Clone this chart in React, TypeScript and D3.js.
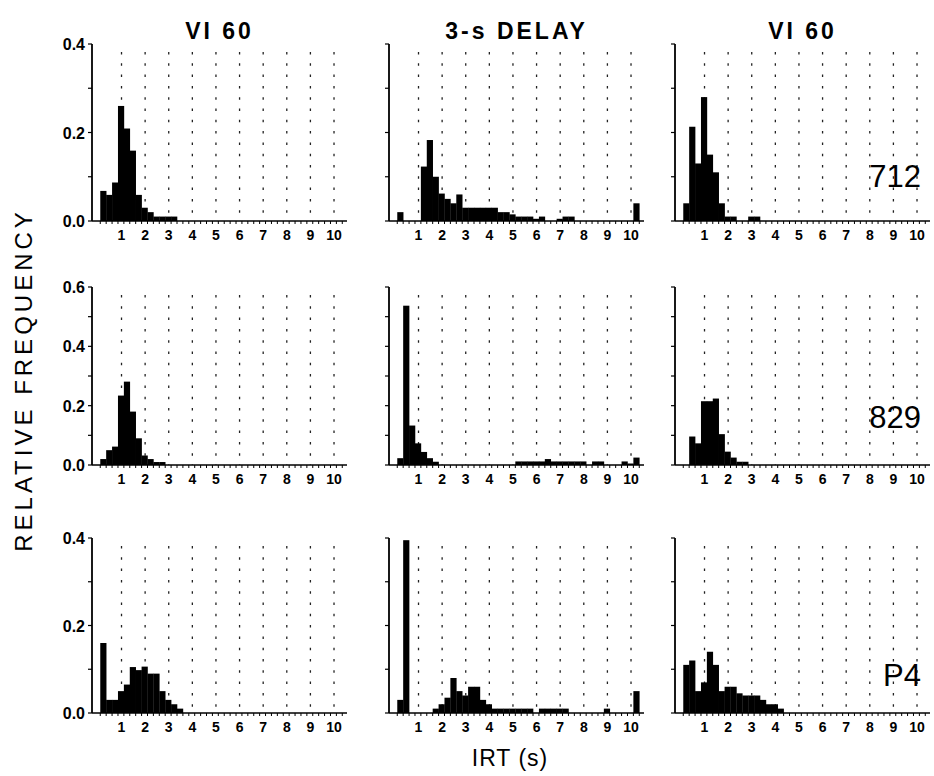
import React, { useRef, useEffect } from 'react';
import * as d3 from 'd3';

// IRT bins are 0.25 s wide, the first one starts at 0.1 s
const binStarts = d3.range(41).map(i => 0.1 + i * 0.25);
const binWidth = 0.25;

const columnTitles = ['VI 60', '3-s DELAY', 'VI 60'];
const subjects = ['712', '829', 'P4'];
const yMaxes = [0.4, 0.6, 0.4];
const xTickValues = [1, 2, 3, 4, 5, 6, 7, 8, 9, 10];

// subject 712
const vi712a = [0.068, 0.059, 0.087, 0.26, 0.209, 0.159, 0.059, 0.03, 0.02, 0.01, 0.01, 0.01, 0.01,
  0, 0, 0, 0, 0, 0, 0, 0, 0, 0, 0, 0, 0, 0, 0, 0, 0, 0, 0, 0, 0, 0, 0, 0, 0, 0, 0, 0];
const delay712 = [0.02, 0, 0, 0, 0.123, 0.183, 0.1, 0.062, 0.05, 0.04, 0.06, 0.03, 0.03, 0.03, 0.03,
  0.03, 0.03, 0.02, 0.02, 0.015, 0.01, 0.01, 0.01, 0.005, 0.01, 0, 0, 0.005, 0.01, 0.01,
  0, 0, 0, 0, 0, 0, 0, 0, 0, 0, 0.04];
const vi712b = [0.04, 0.213, 0.13, 0.28, 0.15, 0.11, 0.04, 0.01, 0.01, 0, 0, 0.01, 0.01,
  0, 0, 0, 0, 0, 0, 0, 0, 0, 0, 0, 0, 0, 0, 0, 0, 0, 0, 0, 0, 0, 0, 0, 0, 0, 0, 0, 0];

// subject 829
const vi829a = [0.02, 0.05, 0.062, 0.234, 0.281, 0.18, 0.09, 0.032, 0.02, 0.01, 0.01,
  0, 0, 0, 0, 0, 0, 0, 0, 0, 0, 0, 0, 0, 0, 0, 0, 0, 0, 0, 0, 0, 0, 0, 0, 0, 0, 0, 0, 0, 0];
const delay829 = [0.023, 0.537, 0.133, 0.073, 0.044, 0.023, 0.011,
  0, 0, 0, 0, 0, 0, 0, 0, 0, 0, 0, 0, 0,
  0.012, 0.012, 0.012, 0.012, 0.012, 0.02, 0.012, 0.012, 0.012, 0.012, 0.012, 0.012,
  0, 0.012, 0.012, 0, 0, 0, 0.012, 0.005, 0.025];
const vi829b = [0, 0.096, 0.073, 0.215, 0.215, 0.224, 0.104, 0.045, 0.025, 0.011, 0.011,
  0, 0, 0, 0, 0, 0, 0, 0, 0, 0, 0, 0, 0, 0, 0, 0, 0, 0, 0, 0, 0, 0, 0, 0, 0, 0, 0, 0, 0, 0];

// subject P4
const viP4a = [0.16, 0.03, 0.03, 0.05, 0.065, 0.105, 0.098, 0.106, 0.09, 0.09, 0.05, 0.03, 0.02, 0.01,
  0, 0, 0, 0, 0, 0, 0, 0, 0, 0, 0, 0, 0, 0, 0, 0, 0, 0, 0, 0, 0, 0, 0, 0, 0, 0, 0];
const delayP4 = [0.03, 0.395, 0, 0, 0, 0, 0.01, 0.02, 0.035, 0.08, 0.05, 0.04, 0.06, 0.06, 0.03,
  0.02, 0.01, 0.01, 0.01, 0.01, 0.01, 0.01, 0.01, 0, 0.01, 0.01, 0.01, 0.01, 0.01,
  0, 0, 0, 0, 0, 0, 0.01, 0, 0, 0, 0, 0.05];
const viP4b = [0.11, 0.12, 0.05, 0.07, 0.14, 0.11, 0.05, 0.06, 0.06, 0.045, 0.04, 0.04, 0.04, 0.03,
  0.02, 0.02, 0.01, 0, 0, 0, 0, 0, 0, 0, 0, 0, 0, 0, 0, 0, 0, 0, 0, 0, 0, 0, 0, 0, 0, 0, 0];

const panelData = [
  [vi712a, delay712, vi712b],
  [vi829a, delay829, vi829b],
  [viP4a, delayP4, viP4b],
];

const App = () => {
  const svgRef = useRef(null);

  useEffect(() => {
    const svg = d3.select(svgRef.current);
    svg.selectAll('*').remove();

    const font = '"Liberation Sans", Arial, Helvetica, sans-serif';
    const colLeft = [92, 389, 675];
    const panelW = 255;
    const rowTop = [44, 287, 538];
    const rowBottom = [221, 465, 713];

    svg.append('rect').attr('width', 934).attr('height', 776).attr('fill', '#fff');

    // column titles
    columnTitles.forEach((t, c) => {
      svg.append('text')
        .attr('x', colLeft[c] + panelW / 2)
        .attr('y', 39)
        .attr('text-anchor', 'middle')
        .attr('font-family', font)
        .attr('font-weight', 'bold')
        .attr('font-size', 23)
        .attr('letter-spacing', 3)
        .text(t);
    });

    panelData.forEach((rowSeries, r) => {
      const y = d3.scaleLinear().domain([0, yMaxes[r]]).range([rowBottom[r], rowTop[r]]);
      const yTicks = d3.range(0, yMaxes[r] + 0.001, 0.1);

      rowSeries.forEach((values, c) => {
        const x = d3.scaleLinear().domain([-0.25, 10.55]).range([colLeft[c], colLeft[c] + panelW]);
        const g = svg.append('g');

        // dotted guide lines at whole seconds
        g.selectAll('.guide')
          .data(xTickValues)
          .enter().append('line')
          .attr('x1', d => x(d)).attr('x2', d => x(d))
          .attr('y1', rowTop[r] + 8).attr('y2', rowBottom[r])
          .attr('stroke', '#222')
          .attr('stroke-width', 1.3)
          .attr('stroke-dasharray', '2.5,8.8');

        // bars
        g.selectAll('.bar')
          .data(values)
          .enter().append('rect')
          .attr('x', (d, i) => x(binStarts[i]))
          .attr('width', (d, i) => x(binStarts[i] + binWidth) - x(binStarts[i]) + 0.3)
          .attr('y', d => y(d))
          .attr('height', d => y(0) - y(d))
          .attr('fill', '#000');

        // y axis
        g.append('line')
          .attr('x1', x(-0.25)).attr('x2', x(-0.25))
          .attr('y1', rowTop[r]).attr('y2', rowBottom[r])
          .attr('stroke', '#000').attr('stroke-width', 1.8);
        g.selectAll('.ytick')
          .data(yTicks)
          .enter().append('line')
          .attr('x1', x(-0.25) - 4).attr('x2', x(-0.25))
          .attr('y1', d => y(d)).attr('y2', d => y(d))
          .attr('stroke', '#000').attr('stroke-width', 1.2);

        if (c === 0) {
          g.selectAll('.ylab')
            .data(yTicks.filter((d, i) => i % 2 === 0))
            .enter().append('text')
            .attr('x', x(-0.25) - 7)
            .attr('y', d => y(d) + 6)
            .attr('text-anchor', 'end')
            .attr('font-family', font)
            .attr('font-weight', 'bold')
            .attr('font-size', 16)
            .text(d => d3.format('.1f')(d));
        }

        // x axis
        g.append('line')
          .attr('x1', x(-0.25)).attr('x2', x(10.55))
          .attr('y1', y(0)).attr('y2', y(0))
          .attr('stroke', '#000').attr('stroke-width', 1.6);
        g.selectAll('.xminor')
          .data(binStarts.concat([binStarts[binStarts.length - 1] + binWidth]))
          .enter().append('line')
          .attr('x1', d => x(d)).attr('x2', d => x(d))
          .attr('y1', y(0)).attr('y2', y(0) + 3)
          .attr('stroke', '#000').attr('stroke-width', 1);
        g.selectAll('.xlab')
          .data(xTickValues)
          .enter().append('text')
          .attr('x', d => x(d))
          .attr('y', y(0) + 19)
          .attr('text-anchor', 'middle')
          .attr('font-family', font)
          .attr('font-weight', 'bold')
          .attr('font-size', 14)
          .text(d => d);

        if (c === 2) {
          const labelY = [187, 428, 686];
          g.append('text')
            .attr('x', colLeft[c] + panelW - 9)
            .attr('y', labelY[r])
            .attr('text-anchor', 'end')
            .attr('font-family', font)
            .attr('font-size', 31)
            .text(subjects[r]);
        }
      });
    });

    // axis titles
    svg.append('text')
      .attr('transform', 'translate(32,380) rotate(-90)')
      .attr('text-anchor', 'middle')
      .attr('font-family', font)
      .attr('font-size', 24)
      .attr('letter-spacing', 4)
      .text('RELATIVE FREQUENCY');

    svg.append('text')
      .attr('x', 510)
      .attr('y', 766)
      .attr('text-anchor', 'middle')
      .attr('font-family', font)
      .attr('font-size', 23)
      .attr('letter-spacing', 1)
      .text('IRT (s)');
  }, []);

  return (
    <svg ref={svgRef} width={934} height={776}
      style={{ position: 'absolute', left: 0, top: 0 }}></svg>
  );
};

export default App;
